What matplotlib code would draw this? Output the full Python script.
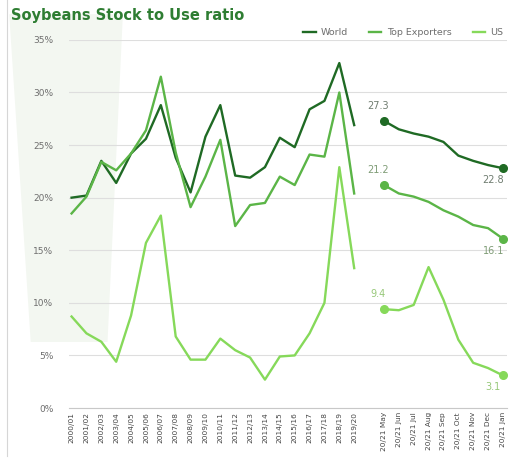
"""Soybeans stock-to-use ratio: history plus monthly 2020/21 projections."""
import matplotlib

matplotlib.use("Agg")
import matplotlib.pyplot as plt
import numpy as np
from matplotlib.patches import Polygon
from matplotlib.ticker import FuncFormatter

# Marketing years and monthly estimates (one empty slot between them)
years = [f"{y}/{(y + 1) % 100:02d}" for y in range(2000, 2020)]
months = ["May", "Jun", "Jul", "Aug", "Sep", "Oct", "Nov", "Dec", "Jan"]
month_labels = [f"20/21 {m}" for m in months]
categories = years + [""] + month_labels

# Stock to use ratio, %
world_hist = [20.0, 20.2, 23.5, 21.4, 24.2, 25.6, 28.8, 23.8, 20.5, 25.8,
              28.8, 22.1, 21.9, 22.9, 25.7, 24.8, 28.4, 29.2, 32.8, 26.9]
exporters_hist = [18.5, 20.1, 23.4, 22.6, 24.2, 26.4, 31.5, 24.3, 19.1, 22.0,
                  25.5, 17.3, 19.3, 19.5, 22.0, 21.2, 24.1, 23.9, 30.0, 20.4]
us_hist = [8.7, 7.1, 6.3, 4.4, 8.8, 15.7, 18.3, 6.8, 4.6, 4.6,
           6.6, 5.5, 4.8, 2.7, 4.9, 5.0, 7.1, 10.0, 22.9, 13.3]

world_2021 = [27.3, 26.5, 26.1, 25.8, 25.3, 24.0, 23.5, 23.1, 22.8]
exporters_2021 = [21.2, 20.4, 20.1, 19.6, 18.8, 18.2, 17.4, 17.1, 16.1]
us_2021 = [9.4, 9.3, 9.8, 13.4, 10.3, 6.5, 4.3, 3.8, 3.1]

WORLD_COLOR = "#1f6a24"
EXPORTERS_COLOR = "#5bb547"
US_COLOR = "#86d95a"
TITLE_COLOR = "#2e7d32"
TEXT_GRAY = "#6e6e6e"

fig = plt.figure(figsize=(5.12, 4.75), dpi=100)
fig.patch.set_facecolor("white")

# background layer: faint logo wash on the left and the page border
bg = fig.add_axes([0, 0, 1, 1], zorder=-1)
bg.set_xlim(0, 1)
bg.set_ylim(0, 1)
bg.axis("off")
bg.add_patch(Polygon([(0.018, 0.97), (0.24, 0.97), (0.21, 0.28), (0.06, 0.28)],
                     closed=True, facecolor="#f3f7f1", edgecolor="none"))
bg.plot([0.014, 0.014], [0.04, 1.0], color="#d6d6d6", lw=0.8)

ax = fig.add_axes([0.134, 0.141, 0.857, 0.775])
ax.patch.set_alpha(0)

x_hist = np.arange(len(years))
x_2021 = np.arange(len(years) + 1, len(categories))

series = [
    ("World", world_hist, world_2021, WORLD_COLOR, "#6f7c70"),
    ("Top Exporters", exporters_hist, exporters_2021, EXPORTERS_COLOR, "#7f9c76"),
    ("US", us_hist, us_2021, US_COLOR, "#97c879"),
]

for name, hist, proj, color, label_color in series:
    ax.plot(x_hist, hist, color=color, lw=1.7, label=name)
    ax.plot(x_2021, proj, color=color, lw=1.7, solid_joinstyle="round")
    ax.plot([x_2021[0], x_2021[-1]], [proj[0], proj[-1]], "o", color=color, ms=5.5)
    ax.annotate(f"{proj[0]:.1f}", (x_2021[0], proj[0]), xytext=(-4, 7),
                textcoords="offset points", ha="center", va="bottom",
                fontsize=7, color=label_color, annotation_clip=False)
    ax.annotate(f"{proj[-1]:.1f}", (x_2021[-1], proj[-1]), xytext=(-7, -5),
                textcoords="offset points", ha="center", va="top",
                fontsize=7, color=label_color, annotation_clip=False)

ax.set_ylim(0, 35)
ax.set_yticks(np.arange(0, 36, 5))
ax.yaxis.set_major_formatter(FuncFormatter(lambda v, _: f"{v:.0f}%"))
ax.set_xlim(-0.2, len(categories) - 0.7)
ax.set_xticks(np.arange(len(categories)))
ax.set_xticklabels(categories, rotation=90, fontsize=5.3, color="#444444")

ax.grid(axis="y", color="#dedede", lw=0.8)
ax.set_axisbelow(True)
for side in ["top", "right", "left"]:
    ax.spines[side].set_visible(False)
ax.spines["bottom"].set_color("#c8c8c8")
ax.tick_params(axis="y", length=0, pad=11, labelsize=6.5, labelcolor=TEXT_GRAY)
ax.tick_params(axis="x", length=0, pad=3)

ax.legend(loc="center right", bbox_to_anchor=(1.0, 1.02), ncol=3, frameon=False,
          fontsize=6.8, labelcolor=TEXT_GRAY, handlelength=1.3, handletextpad=0.6,
          columnspacing=2.2, borderaxespad=0)

fig.text(0.022, 0.968, "Soybeans Stock to Use ratio", fontsize=10.5, fontweight="bold",
         color=TITLE_COLOR, va="center", ha="left")

fig.savefig("out.png", dpi=100)
